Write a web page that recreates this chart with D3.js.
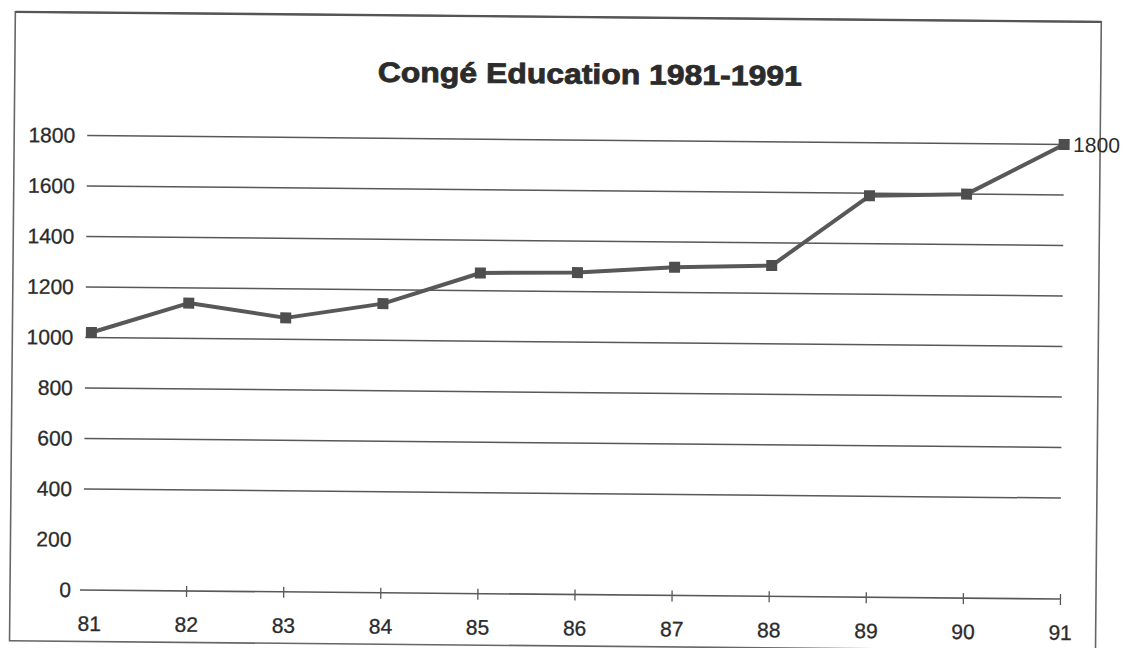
<!DOCTYPE html>
<html>
<head>
<meta charset="utf-8">
<script src="https://cdn.jsdelivr.net/npm/d3@7"></script>
<style>
  html, body { margin: 0; padding: 0; background: #fff; }
  svg { display: block; }
  text { font-family: "Liberation Sans", Arial, sans-serif; fill: #2b2b2b; }
</style>
</head>
<body>
<svg id="chart" width="1124" height="648"></svg>
<script>
// Congé Education, yearly totals 1981-1991
const years = ["81", "82", "83", "84", "85", "86", "87", "88", "89", "90", "91"];
const values = [1020, 1140, 1085, 1145, 1270, 1275, 1300, 1310, 1590, 1600, 1800];
const yTickValues = [0, 200, 400, 600, 800, 1000, 1200, 1400, 1600, 1800];
const gridValues = [400, 600, 800, 1000, 1200, 1400, 1600, 1800];
const titleText = "Congé Education 1981-1991";
const endLabel = "1800";

const svg = d3.select("#chart");
const ink = "#585858";

// whole sheet sits slightly tilted
const g = svg.append("g").attr("transform", "rotate(0.53, 85, 590)");

// frame
g.append("rect")
  .attr("x", 10).attr("y", 12.5)
  .attr("width", 1086).attr("height", 629)
  .attr("fill", "none").attr("stroke", "#666").attr("stroke-width", 1.6);
g.append("line")
  .attr("x1", 10).attr("x2", 1096).attr("y1", 12.5).attr("y2", 12.5)
  .attr("stroke", "#555").attr("stroke-width", 2.4);

const x = d3.scalePoint().domain(years).range([89, 1060]);
const y = d3.scaleLinear().domain([0, 1800]).range([590, 135.5]);

// title
g.append("text")
  .attr("x", 585).attr("y", 79)
  .attr("text-anchor", "middle")
  .attr("font-size", 28).attr("font-weight", "bold")
  .attr("stroke", "#2b2b2b").attr("stroke-width", 0.8)
  .attr("textLength", 424).attr("lengthAdjust", "spacingAndGlyphs")
  .text(titleText);

// horizontal grid
g.append("g").selectAll("line").data(gridValues).join("line")
  .attr("x1", 83).attr("x2", x("91"))
  .attr("y1", d => y(d)).attr("y2", d => y(d))
  .attr("stroke", ink).attr("stroke-width", 1.5);

// y axis labels
const yAxis = g.append("g")
  .attr("transform", "translate(83,0)")
  .call(d3.axisLeft(y).tickValues(yTickValues).tickSize(0).tickPadding(12).tickFormat(d3.format("d")));
yAxis.select(".domain").remove();
yAxis.selectAll("text")
  .attr("font-size", 21)
  .style("font-family", "'Liberation Sans', Arial, sans-serif")
  .attr("fill", "#2b2b2b")
  .attr("stroke", "#2b2b2b").attr("stroke-width", 0.3);

// x axis: baseline with crossing ticks
const xAxis = g.append("g")
  .attr("transform", `translate(0,${y(0)})`)
  .call(d3.axisBottom(x).tickValues(years).tickSize(0).tickPadding(26));
xAxis.select(".domain")
  .attr("d", `M80,0H${x("91")}`)
  .attr("stroke", ink).attr("stroke-width", 1.6);
xAxis.selectAll(".tick line")
  .attr("y1", d => d === years[0] ? 0 : -5)
  .attr("y2", d => d === years[0] ? 0 : 6)
  .attr("stroke", ink).attr("stroke-width", 1.3);
xAxis.selectAll("text")
  .attr("font-size", 21)
  .style("font-family", "'Liberation Sans', Arial, sans-serif")
  .attr("fill", "#2b2b2b")
  .attr("stroke", "#2b2b2b").attr("stroke-width", 0.3);

// series line
const line = d3.line().x((d, i) => x(years[i])).y(d => y(d));
g.append("path")
  .datum(values)
  .attr("d", line)
  .attr("fill", "none")
  .attr("stroke", ink)
  .attr("stroke-width", 4)
  .attr("stroke-linejoin", "round");

// square markers
const m = 11;
g.append("g").selectAll("rect").data(values).join("rect")
  .attr("x", (d, i) => x(years[i]) - m / 2)
  .attr("y", d => y(d) - m / 2)
  .attr("width", m).attr("height", m)
  .attr("fill", "#4e4e4e");

// value label at the last point
g.append("text")
  .attr("x", x("91") + 9)
  .attr("y", y(values[values.length - 1]) + 7.5)
  .attr("font-size", 21)
  .text(endLabel);
</script>
</body>
</html>
